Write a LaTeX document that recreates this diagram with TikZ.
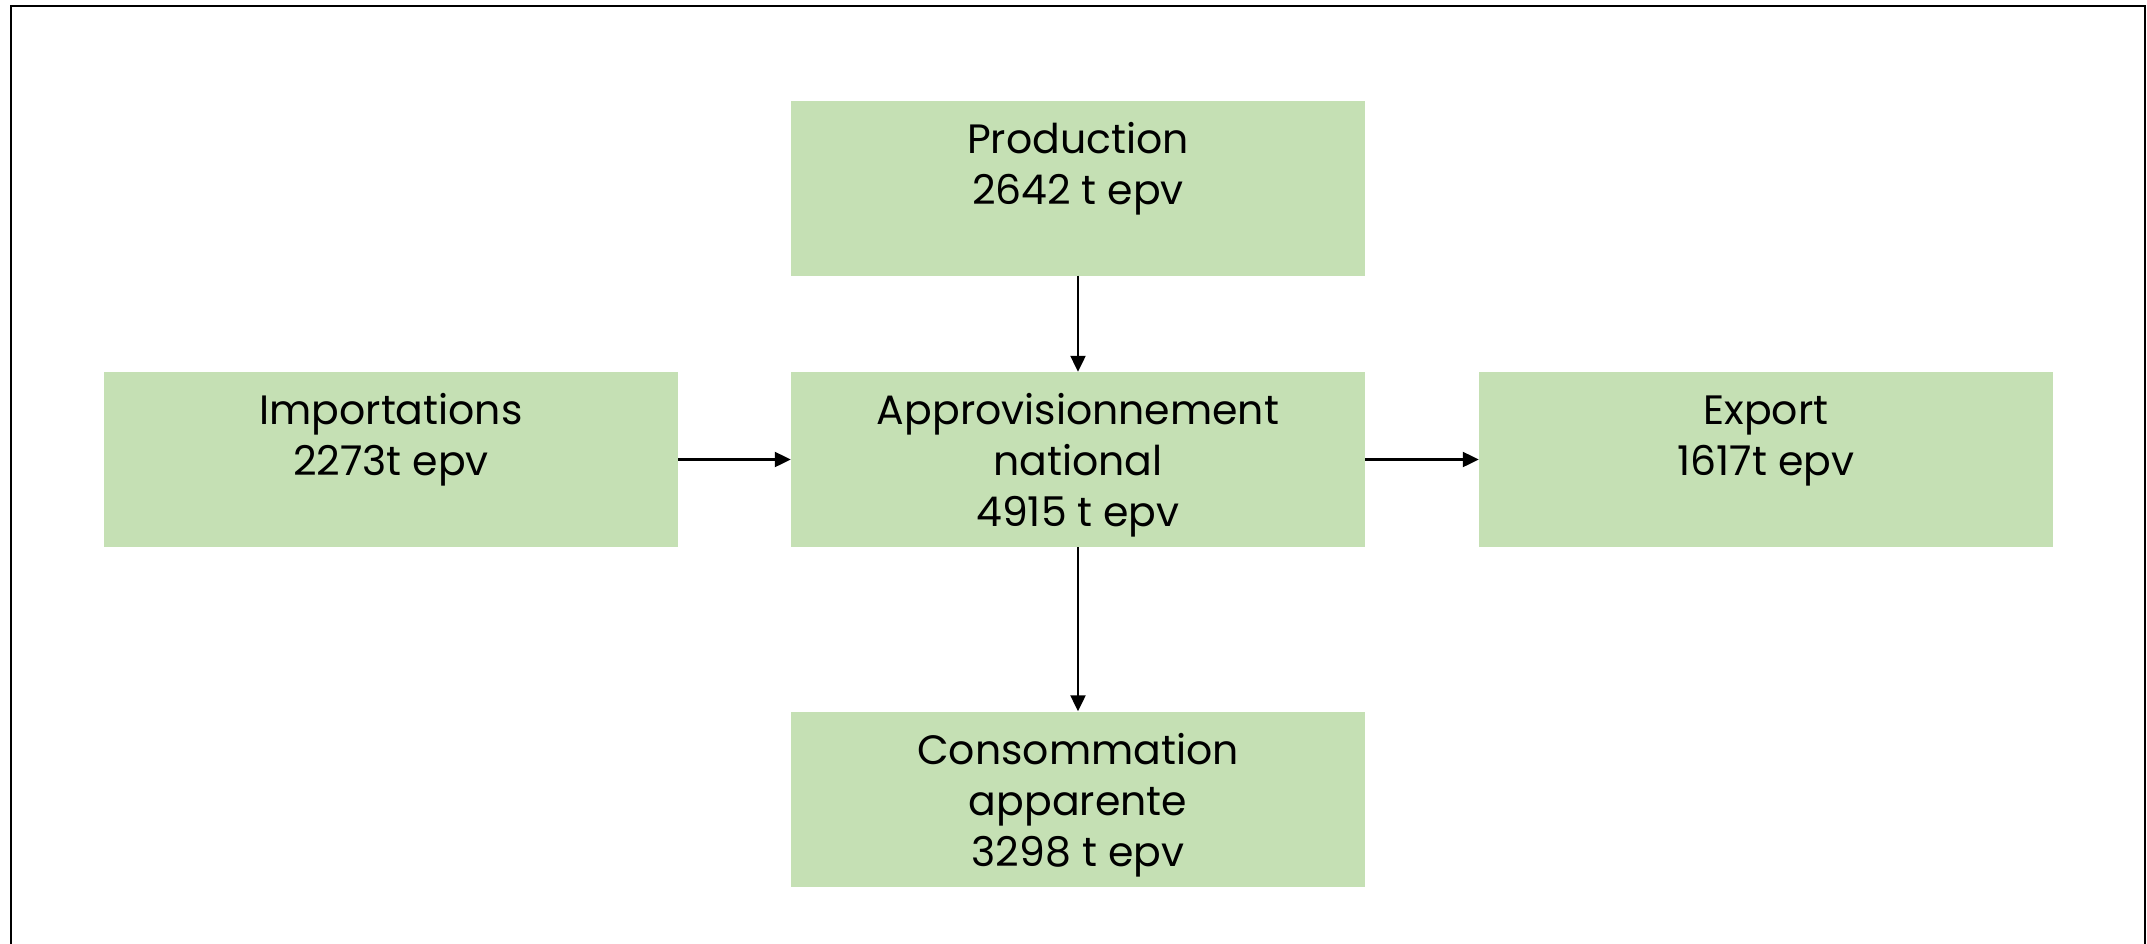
\documentclass[tikz,border=0pt]{standalone}
\usepackage{fontspec}
\setmainfont{Poppins}
\usetikzlibrary{arrows.meta}
\definecolor{boxgreen}{RGB}{197,224,180}
\newcommand{\topgap}{\rule{0pt}{48pt}}

\begin{document}
\begin{tikzpicture}[x = 1pt, y = -1pt]
	\tikzstyle{flowBox}=[shape = rectangle, fill = boxgreen, minimum width = 574pt, minimum height = 175pt, inner sep = 0pt, align = center, font = \fontsize{41}{51}\selectfont]
	\tikzstyle{flowArrow}=[line width = 2.2pt, -{Triangle[length = 16pt, width = 15pt]}]
	\useasboundingbox (0,0) rectangle (2147,943);
	\draw[line width = 2.5pt] (11,960) -- (11,6) -- (2145,6) -- (2145,960);
	\node[style = flowBox] (prod) at (1078,188) {\topgap Production\\2642 t epv\\\strut};
	\node[style = flowBox] (import) at (391,459.5) {\topgap Importations\\2273t epv\\\strut};
	\node[style = flowBox] (appro) at (1078,459.5) {\topgap Approvisionnement\\national\\4915 t epv\strut};
	\node[style = flowBox] (export) at (1766,459.5) {\topgap Export\\1617t epv\\\strut};
	\node[style = flowBox] (conso) at (1078,799) {\topgap Consommation\\apparente\\3298 t epv\strut};
	\draw[style = flowArrow] (prod) -- (appro);
	\draw[style = flowArrow] (import) -- (appro);
	\draw[style = flowArrow] (appro) -- (export);
	\draw[style = flowArrow] (appro) -- (conso);
\end{tikzpicture}
\end{document}
